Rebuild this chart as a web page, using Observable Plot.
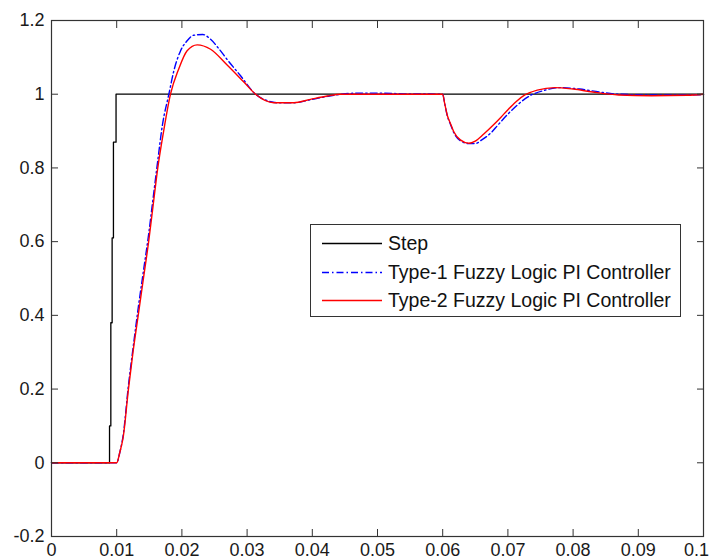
<!DOCTYPE html>
<html><head><meta charset="utf-8">
<script src="https://cdn.jsdelivr.net/npm/d3@7"></script>
<script src="https://cdn.jsdelivr.net/npm/@observablehq/plot@0.6"></script>
<style>
body{margin:0;background:#fff;}
#wrap{position:relative;width:713px;height:560px;overflow:hidden;}
#legend{position:absolute;left:310px;top:224px;width:369px;height:91px;border:1px solid #333;background:#fff;font-family:"Liberation Sans",Arial,sans-serif;font-size:19.5px;color:#111;}
.row{position:absolute;left:0;height:24px;width:100%;}
.row svg{position:absolute;left:11px;top:0;}
.row span{position:absolute;left:77px;top:0;line-height:24px;white-space:nowrap;}
</style></head><body><div id="wrap"></div>
<script>
// Step reference
const stepT = [0, 0.0089, 0.0091, 0.0093, 0.0095, 0.0099, 0.1];
const stepV = [0, 0.1, 0.38, 0.61, 0.87, 1.0, 1.0];

// Type-1 Fuzzy Logic PI Controller
const type1T = [0, 0.01, 0.0105, 0.011, 0.0118, 0.0125, 0.0133, 0.0141, 0.0149, 0.0156, 0.0163, 0.017, 0.0180, 0.01876, 0.0198, 0.0208, 0.0218, 0.0232, 0.0244, 0.0256, 0.0269, 0.029, 0.0313, 0.0330, 0.0346, 0.0372, 0.0397, 0.0423, 0.0445, 0.047, 0.050, 0.054, 0.06, 0.0603, 0.0607, 0.0612, 0.0617, 0.0627, 0.064, 0.065, 0.066, 0.0675, 0.0684, 0.070, 0.0714, 0.0735, 0.0755, 0.078, 0.081, 0.084, 0.087, 0.092, 0.0975, 0.1];
const type1V = [0, 0, 0.03, 0.075, 0.21, 0.31, 0.42, 0.52, 0.62, 0.72, 0.82, 0.915, 1.0, 1.063, 1.118, 1.145, 1.160, 1.162, 1.149, 1.125, 1.095, 1.05, 1.0, 0.983, 0.977, 0.977, 0.985, 0.994, 1.0, 1.003, 1.003, 1.001, 1.0, 0.975, 0.942, 0.918, 0.896, 0.874, 0.866, 0.866, 0.876, 0.897, 0.915, 0.946, 0.970, 0.997, 1.01, 1.018, 1.014, 1.006, 1.0, 0.998, 0.998, 0.999];

// Type-2 Fuzzy Logic PI Controller
const type2T = [0, 0.01, 0.0105, 0.011, 0.0118, 0.0125, 0.0133, 0.0141, 0.0149, 0.0156, 0.0163, 0.0172, 0.01825, 0.0195, 0.0208, 0.02235, 0.0244, 0.0269, 0.0295, 0.0313, 0.0341, 0.0372, 0.0397, 0.0423, 0.0443, 0.05, 0.06, 0.0603, 0.0607, 0.0612, 0.0617, 0.0627, 0.064, 0.065, 0.0663, 0.0678, 0.0689, 0.0699, 0.0712, 0.0726, 0.0745, 0.0772, 0.080, 0.083, 0.087, 0.092, 0.0975, 0.1];
const type2V = [0, 0, 0.03, 0.07, 0.2, 0.3, 0.4, 0.5, 0.6, 0.7, 0.8, 0.9, 1.0, 1.068, 1.118, 1.134, 1.122, 1.08, 1.033, 1.0, 0.977, 0.977, 0.986, 0.995, 1.0, 1.0, 1.0, 0.975, 0.943, 0.92, 0.898, 0.876, 0.867, 0.873, 0.892, 0.917, 0.937, 0.956, 0.979, 0.998, 1.011, 1.018, 1.014, 1.006, 0.998, 0.996, 0.997, 1.0];

const xTicks = [0, 0.01, 0.02, 0.03, 0.04, 0.05, 0.06, 0.07, 0.08, 0.09, 0.1];
const xLabels = ["0", "0.01", "0.02", "0.03", "0.04", "0.05", "0.06", "0.07", "0.08", "0.09", "0.1"];
const yTicks = [-0.2, 0, 0.2, 0.4, 0.6, 0.8, 1, 1.2];
const yLabels = ["-0.2", "0", "0.2", "0.4", "0.6", "0.8", "1", "1.2"];

const seriesNames = ["Step", "Type-1 Fuzzy Logic PI Controller", "Type-2 Fuzzy Logic PI Controller"];
const seriesColors = ["#000000", "#0000ff", "#ff0000"];
const seriesDash = [null, "7,3,1.5,3", null];

const zip = (T, V) => T.map((t, i) => ({t, v: V[i]}));
const stepData = zip(stepT, stepV);
const type1Data = zip(type1T, type1V);
const type2Data = zip(type2T, type2V);

const font = '"Liberation Sans", Arial, sans-serif';
const axisCol = "#333";
const lastX = xTicks[xTicks.length - 1];
const innerX = xTicks.slice(0, -1);

const chart = Plot.plot({
  width: 713, height: 560,
  marginLeft: 51, marginRight: 10, marginTop: 20, marginBottom: 24,
  style: {fontFamily: font, fontSize: "18px", color: "#1a1a1a", background: "white", overflow: "visible"},
  x: {domain: [0, 0.1], label: null},
  y: {domain: [-0.2, 1.2], label: null},
  marks: [
    Plot.line(stepData, {x: "t", y: "v", stroke: seriesColors[0], strokeWidth: 1.3, curve: "step-after"}),
    Plot.line(type1Data, {x: "t", y: "v", stroke: seriesColors[1], strokeWidth: 1.4, strokeDasharray: seriesDash[1], curve: "monotone-x"}),
    Plot.line(type2Data, {x: "t", y: "v", stroke: seriesColors[2], strokeWidth: 1.4, curve: "monotone-x"}),
    Plot.frame({stroke: axisCol, strokeWidth: 1.2}),
    Plot.axisX(innerX, {anchor: "bottom", tickSize: -7, tickPadding: 14, fontSize: 18, stroke: axisCol, tickFormat: d => xLabels[xTicks.indexOf(d)], label: null}),
    Plot.axisX([lastX], {anchor: "bottom", tickSize: 0, tickPadding: 7, fontSize: 18, dx: -7, stroke: axisCol, tickFormat: d => xLabels[xTicks.indexOf(d)], label: null}),
    Plot.axisX(xTicks, {anchor: "top", tickSize: -7, tickPadding: 0, stroke: axisCol, tickFormat: () => "", label: null}),
    Plot.axisY(yTicks, {anchor: "left", tickSize: -7, tickPadding: 14, fontSize: 18, stroke: axisCol, tickFormat: d => yLabels[yTicks.indexOf(d)], label: null}),
    Plot.axisY(yTicks, {anchor: "right", tickSize: -7, tickPadding: 0, stroke: axisCol, tickFormat: () => "", label: null})
  ]
});
const wrap = document.getElementById("wrap");
wrap.appendChild(chart);

// legend inside axes (MATLAB style)
const lg = document.createElement("div");
lg.id = "legend";
const rowTops = [6, 35, 63];
seriesNames.forEach((name, i) => {
  const row = document.createElement("div");
  row.className = "row";
  row.style.top = rowTops[i] + "px";
  const dash = seriesDash[i] ? ` stroke-dasharray="${seriesDash[i]}"` : "";
  row.innerHTML = `<svg width="62" height="24"><line x1="0" y1="12.5" x2="60" y2="12.5" stroke="${seriesColors[i]}" stroke-width="1.4"${dash}/></svg><span>${name}</span>`;
  lg.appendChild(row);
});
wrap.appendChild(lg);
</script></body></html>
